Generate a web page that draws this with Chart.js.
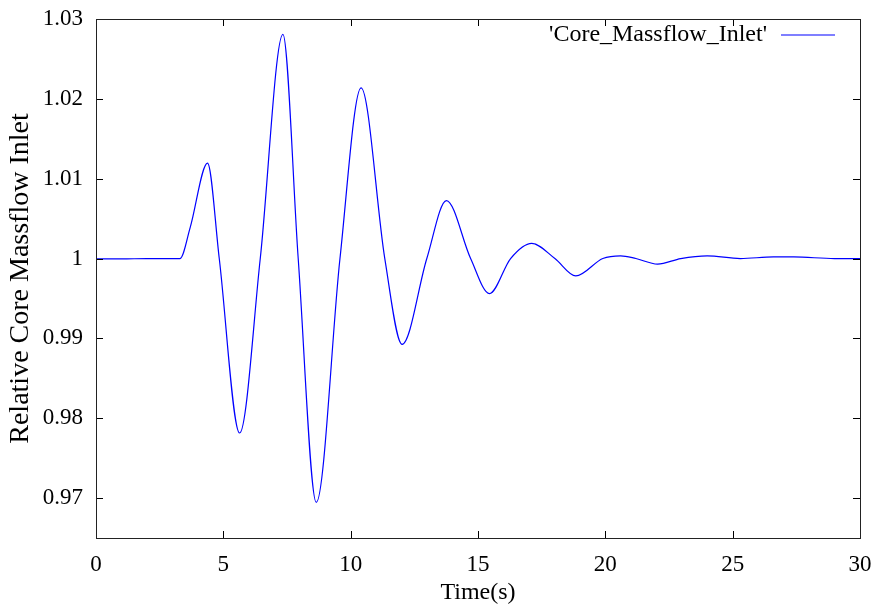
<!DOCTYPE html>
<html>
<head>
<meta charset="utf-8">
<script src="https://cdn.jsdelivr.net/npm/chart.js@4/dist/chart.umd.min.js"></script>
<style>
  html, body { margin: 0; padding: 0; background: #ffffff; }
  #wrap { width: 883px; height: 610px; position: relative; }
</style>
</head>
<body>
<div id="wrap"><canvas id="c" width="883" height="610"></canvas></div>
<script>
// ---- data ----
const seriesLabel = "'Core_Massflow_Inlet'";
const times = [0, 1, 2, 3, 3.3, 3.7, 4.38, 4.84, 5.64, 6.45, 7.34, 7.94, 8.65, 9.58, 10.41, 11.34, 12.02, 12.99, 13.76, 14.71, 15.45, 16.28, 17.11, 18.02, 18.84, 19.9, 20.6, 21.2, 22.05, 22.96, 24.0, 25.3, 26.6, 27.4, 29, 30];
const massflow = [0.99995, 0.99995, 1.0, 1.0, 1.0, 1.0039, 1.01195, 1.0, 0.97815, 1.0, 1.02808, 1.0, 0.96946, 1.0, 1.02138, 1.0, 0.98925, 1.0, 1.00726, 1.0, 0.9956, 1.0, 1.0019, 1.0, 0.99782, 1.0, 1.00034, 1.0, 0.9993, 1.0, 1.00034, 1.0, 1.0002, 1.0002, 1.0, 1.0];
const xTicks = [0, 5, 10, 15, 20, 25, 30];
const yTicks = [0.97, 0.98, 0.99, 1.0, 1.01, 1.02, 1.03];
const yTickLabels = ["0.97", "0.98", "0.99", "1", "1.01", "1.02", "1.03"];
const xTitle = "Time(s)";
const yTitle = "Relative Core Massflow Inlet";

const FONT = "'Liberation Serif', 'Times New Roman', serif";
const points = times.map((t, i) => ({ x: t, y: massflow[i] }));

// gnuplot-style frame with inward ticks on all four sides + legend
const framePlugin = {
  id: 'frame',
  afterDatasetsDraw(chart) {
    const { ctx, chartArea: a, scales } = chart;
    const L = 7;
    ctx.save();
    ctx.strokeStyle = '#000';
    ctx.lineWidth = 1;
    ctx.beginPath();
    xTicks.forEach(v => {
      const px = Math.round(scales.x.getPixelForValue(v)) + 0.5;
      ctx.moveTo(px, a.bottom); ctx.lineTo(px, a.bottom - L);
      ctx.moveTo(px, a.top); ctx.lineTo(px, a.top + L);
    });
    yTicks.forEach(v => {
      const py = Math.round(scales.y.getPixelForValue(v)) + 0.5;
      ctx.moveTo(a.left, py); ctx.lineTo(a.left + L, py);
      ctx.moveTo(a.right, py); ctx.lineTo(a.right - L, py);
    });
    ctx.stroke();
    ctx.strokeStyle = '#222';
    ctx.strokeRect(Math.round(a.left) + 0.5, Math.round(a.top) + 0.5,
                   Math.round(a.right - a.left), Math.round(a.bottom - a.top));
    // legend: text then line sample (gnuplot key)
    const ds = chart.data.datasets[0];
    ctx.font = "24px " + FONT;
    ctx.fillStyle = '#000';
    ctx.textAlign = 'right';
    ctx.textBaseline = 'middle';
    const ly = a.top + 16;
    ctx.fillText(ds.label, a.right - 93, ly);
    ctx.strokeStyle = ds.borderColor;
    ctx.lineWidth = 1.2;
    ctx.beginPath();
    ctx.moveTo(a.right - 79, ly); ctx.lineTo(a.right - 25, ly);
    ctx.stroke();
    ctx.restore();
  }
};

new Chart(document.getElementById('c'), {
  type: 'line',
  data: {
    datasets: [{
      label: seriesLabel,
      data: points,
      borderColor: '#0000ff',
      borderWidth: 1.2,
      pointRadius: 0,
      fill: false,
      cubicInterpolationMode: 'monotone'
    }]
  },
  options: {
    responsive: false,
    animation: false,
    layout: { padding: { top: 19, right: 23, left: 0, bottom: 0 } },
    plugins: { legend: { display: false }, tooltip: { enabled: false } },
    scales: {
      x: {
        type: 'linear', min: 0, max: 30,
        afterBuildTicks(s) { s.ticks = xTicks.map(v => ({ value: v })); },
        afterFit(s) { s.height = 72; s.paddingLeft = 0; s.paddingRight = 0; },
        grid: { display: false, drawTicks: false },
        border: { display: false },
        ticks: { color: '#000', font: { family: FONT, size: 23 }, padding: 13, maxRotation: 0,
                 callback: v => String(v) },
        title: { display: true, text: xTitle, color: '#000', font: { family: FONT, size: 24 }, padding: { top: 0, bottom: 3 } }
      },
      y: {
        type: 'linear', min: 0.965, max: 1.03,
        afterBuildTicks(s) { s.ticks = yTicks.map(v => ({ value: v })); },
        afterFit(s) { s.width = 96; s.paddingTop = 0; s.paddingBottom = 0; },
        grid: { display: false, drawTicks: false },
        border: { display: false },
        ticks: { color: '#000', font: { family: FONT, size: 23 }, padding: 13,
                 callback: v => { const i = yTicks.findIndex(t => Math.abs(t - v) < 1e-9); return i >= 0 ? yTickLabels[i] : ''; } },
        title: { display: true, text: yTitle, color: '#000', font: { family: FONT, size: 28 }, padding: { top: 4, bottom: 0 } }
      }
    }
  },
  plugins: [framePlugin]
});
</script>
</body>
</html>
